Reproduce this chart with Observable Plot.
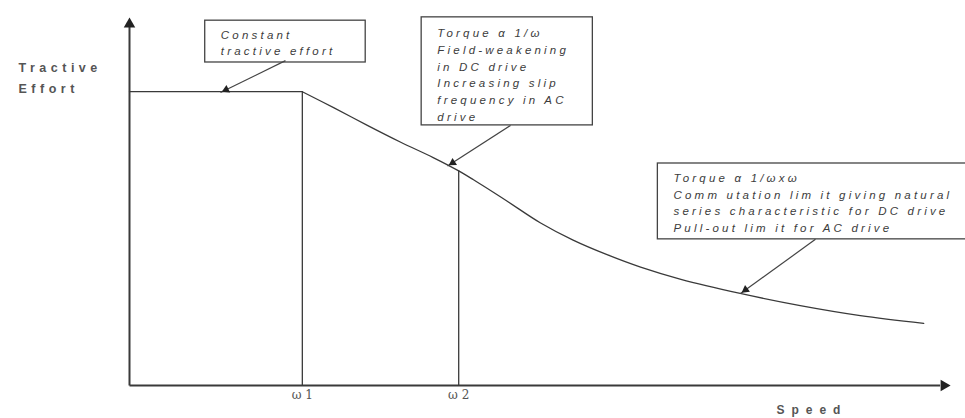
<!DOCTYPE html>
<html>
<head>
<meta charset="utf-8">
<script src="https://cdn.jsdelivr.net/npm/d3@7"></script>
<script src="https://cdn.jsdelivr.net/npm/@observablehq/plot@0.6"></script>
<style>
  html, body { margin: 0; padding: 0; background: #fff; }
  #chart svg { display: block; }
  g[font-style="italic"] { letter-spacing: 3.2px; }
  g.lab-effort { letter-spacing: 4.5px; }
  g.lab-speed { letter-spacing: 7px; }
</style>
</head>
<body>
<div id="chart"></div>
<script>
// ---- data (speed 0..100, tractive effort 0..100) ----
const flatSpeed = [0, 21.0];
const flatEffort = [79.4, 79.4];

const curveSpeed  = [21.0, 24.8, 28.9, 32.9, 36.9, 40.0, 41.8, 45.9, 49.9, 53.9, 58.1, 62.1, 67.0, 74.2, 81.5, 88.8, 96.5];
const curveEffort = [79.4, 75.1, 70.3, 65.8, 61.6, 58.0, 55.6, 49.8, 44.0, 39.3, 35.3, 32.0, 28.7, 24.9, 21.6, 18.9, 16.8];

const cornerSpeeds = [21.0, 40.0];
const cornerEfforts = [79.4, 58.0];
const cornerLabels = ["ω 1", "ω 2"];

const noteTexts = [
  "Constant\ntractive effort",
  "Torque α 1/ω\nField-weakening\nin DC drive\nIncreasing slip\nfrequency in AC\ndrive",
  "Torque α 1/ωxω\nComm utation lim it giving natural\nseries characteristic for DC drive\nPull-out lim it for AC drive"
];
const noteX1 = [9.2, 35.5, 64.2];
const noteX2 = [28.7, 56.3, 104];
const noteY1 = [98.6, 99.5, 60.0];
const noteY2 = [87.3, 70.3, 39.5];
const noteTextX = [11.1, 37.4, 66.1];
const noteTextY = [96.9, 97.3, 58.2];

const arrowFromX = [18.95, 46.3, 83.35];
const arrowFromY = [87.8, 70.3, 39.5];
const arrowToX   = [11.06, 38.64, 74.24];
const arrowToY   = [79.2, 59.3, 24.86];

const axisLabelY = "Tractive\nEffort";
const axisLabelX = "Speed";

// ---- layout ----
const W = 965, H = 418, ML = 129, MR = 13, MT = 15, MB = 33;
const kx = (W - ML - MR) / 100, ky = (H - MT - MB) / 100;

function heads(fromX, fromY, toX, toY, r) {
  const tip = 2 * Math.sqrt(Math.PI * r * r / (3 * Math.sqrt(3)));
  return toX.map((tx, i) => {
    const px = (tx - fromX[i]) * kx, py = -(toY[i] - fromY[i]) * ky;
    const L = Math.hypot(px, py), ux = px / L, uy = py / L;
    return {
      x: tx - ux * tip / kx,
      y: toY[i] + uy * tip / ky,
      angle: Math.atan2(ux, -uy) * 180 / Math.PI
    };
  });
}

const notes = noteTexts.map((t, i) => ({t, x1: noteX1[i], x2: noteX2[i], y1: noteY1[i], y2: noteY2[i], tx: noteTextX[i], ty: noteTextY[i]}));
const callouts = arrowFromX.map((x, i) => ({x1: x, y1: arrowFromY[i], x2: arrowToX[i], y2: arrowToY[i]}));
const calloutHeads = heads(arrowFromX, arrowFromY, arrowToX, arrowToY, 4);
const axisHeads = heads([0, 0], [0, 0], [0, 100], [100, 0], 5.5);
const flat = flatSpeed.map((s, i) => ({s, e: flatEffort[i]}));
const curve = curveSpeed.map((s, i) => ({s, e: curveEffort[i]}));
const corners = cornerSpeeds.map((s, i) => ({s, e: cornerEfforts[i]}));

const ink = "#3a3a3a";

const plot = Plot.plot({
  width: W, height: H,
  marginLeft: ML, marginRight: MR, marginTop: MT, marginBottom: MB,
  x: {domain: [0, 100]},
  y: {domain: [0, 100], axis: null},
  style: {background: "#fff", overflow: "visible"},
  marks: [
    Plot.axisX({
      ticks: cornerSpeeds, tickFormat: (d, i) => cornerLabels[i],
      tickSize: 0, tickPadding: 5, label: null,
      fontFamily: "DejaVu Serif, Liberation Serif, serif", fontSize: 12, fill: "#555"
    }),
    // axes
    Plot.link([{x1: 0, y1: 0, x2: 0, y2: 97}, {x1: 0, y1: 0, x2: 98.5, y2: 0}],
      {x1: "x1", y1: "y1", x2: "x2", y2: "y2", stroke: ink, strokeWidth: 2}),
    Plot.dot(axisHeads, {x: "x", y: "y", r: 5.5, symbol: "triangle2", rotate: "angle", fill: "#222", stroke: "none"}),
    // characteristic
    Plot.line(flat, {x: "s", y: "e", stroke: ink, strokeWidth: 1.3}),
    Plot.line(curve, {x: "s", y: "e", stroke: ink, strokeWidth: 1.3, curve: "catmull-rom"}),
    Plot.ruleX(corners, {x: "s", y1: 0, y2: "e", stroke: ink, strokeWidth: 1.3}),
    // callout boxes
    Plot.rect(notes, {x1: "x1", x2: "x2", y1: "y1", y2: "y2", fill: "#fff", stroke: "#444", strokeWidth: 1.3}),
    Plot.text(notes, {x: "tx", y: "ty", text: "t", textAnchor: "start", lineAnchor: "top", lineHeight: 1.45,
      fontStyle: "italic", fontSize: 11.5, fontFamily: "Liberation Sans, Arial, sans-serif", fill: "#3c3c3c"}),
    Plot.link(callouts, {x1: "x1", y1: "y1", x2: "x2", y2: "y2", stroke: "#444", strokeWidth: 1.2}),
    Plot.dot(calloutHeads, {x: "x", y: "y", r: 4, symbol: "triangle2", rotate: "angle", fill: "#222", stroke: "none"}),
    // axis labels
    Plot.text([axisLabelY], {x: 0, y: 83.7, text: d => d, dx: -111, textAnchor: "start", lineAnchor: "middle",
      lineHeight: 1.7, fontWeight: "bold", fontSize: 12.5, fontFamily: "Liberation Sans, Arial, sans-serif",
      fill: "#555", className: "lab-effort"}),
    Plot.text([axisLabelX], {x: 78.6, y: 0, text: d => d, dy: 25, textAnchor: "start", lineAnchor: "middle",
      fontWeight: "bold", fontSize: 12, fontFamily: "Liberation Sans, Arial, sans-serif",
      fill: "#555", className: "lab-speed"})
  ]
});
document.getElementById("chart").append(plot);
</script>
</body>
</html>
